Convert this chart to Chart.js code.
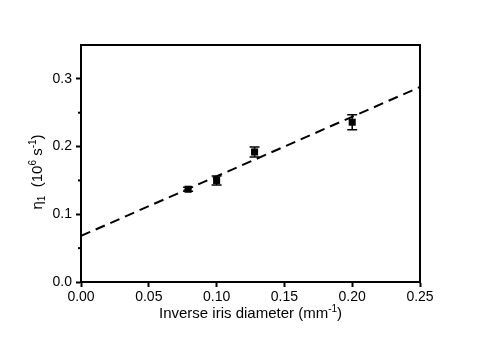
<!DOCTYPE html>
<html><head><meta charset="utf-8">
<script src="https://cdn.jsdelivr.net/npm/chart.js@4.4.0/dist/chart.umd.min.js"></script>
<style>html,body{margin:0;padding:0;background:#fff}canvas{display:block}</style>
</head><body>
<canvas id="c" width="485" height="337"></canvas>
<script>
// Data
const xVals = [0.079, 0.100, 0.128, 0.200];
const yVals = [0.137, 0.150, 0.192, 0.236];
const yErr = [0.003, 0.0067, 0.0074, 0.011];
const fitX = [0.0, 0.25];
const fitY = [0.068, 0.288];
const xTicks = [0.00, 0.05, 0.10, 0.15, 0.20, 0.25];
const yTicks = [0.0, 0.1, 0.2, 0.3];
const yMinorTicks = [0.05, 0.15, 0.25];

const FONT = "'Liberation Sans', Arial, sans-serif";

function drawRich(ctx, parts, x, y, align) {
  // parts: [text, mode] mode: 'n','sup','sub'
  const big = "15px " + FONT, small = "10px " + FONT;
  let total = 0;
  parts.forEach(p => { ctx.font = p[1] === 'n' ? big : small; total += ctx.measureText(p[0]).width; });
  let cx = align === 'center' ? x - total / 2 : x;
  ctx.textBaseline = 'alphabetic';
  ctx.textAlign = 'left';
  parts.forEach(p => {
    ctx.font = p[1] === 'n' ? big : small;
    let dy = p[1] === 'sup' ? -6 : (p[1] === 'sub' ? 3 : 0);
    ctx.fillText(p[0], cx, y + dy);
    cx += ctx.measureText(p[0]).width;
  });
}

const extras = {
  id: 'extras',
  afterDatasetsDraw(chart) {
    const ctx = chart.ctx, xs = chart.scales.x, ys = chart.scales.y, a = chart.chartArea;
    ctx.save();
    ctx.strokeStyle = '#000'; ctx.fillStyle = '#000';
    // error bars
    ctx.lineWidth = 1.5;
    xVals.forEach((xv, i) => {
      const px = xs.getPixelForValue(xv);
      const p1 = ys.getPixelForValue(yVals[i] - yErr[i]);
      const p2 = ys.getPixelForValue(yVals[i] + yErr[i]);
      ctx.beginPath();
      ctx.moveTo(px, p1); ctx.lineTo(px, p2);
      ctx.moveTo(px - 5, p1); ctx.lineTo(px + 5, p1);
      ctx.moveTo(px - 5, p2); ctx.lineTo(px + 5, p2);
      ctx.stroke();
    });
    // frame top/right
    ctx.lineWidth = 2;
    ctx.beginPath();
    ctx.moveTo(a.left, a.top); ctx.lineTo(a.right, a.top); ctx.lineTo(a.right, a.bottom);
    ctx.stroke();
    // minor ticks
    yMinorTicks.forEach(v => {
      const py = ys.getPixelForValue(v);
      ctx.beginPath(); ctx.moveTo(a.left - 3, py); ctx.lineTo(a.left, py); ctx.stroke();
    });
    // titles
    drawRich(ctx, [["Inverse iris diameter (mm", 'n'], ["-1", 'sup'], [")", 'n']], (a.left + a.right) / 2, 318, 'center');
    ctx.translate(42, 172);
    ctx.rotate(-Math.PI / 2);
    drawRich(ctx, [["\u03B7", 'n'], ["1", 'sub'], ["  (10", 'n'], ["6", 'sup'], [" s", 'n'], ["-1", 'sup'], [")", 'n']], 0, 0, 'center');
    ctx.restore();
  }
};

new Chart(document.getElementById('c'), {
  type: 'scatter',
  data: {
    datasets: [
      {
        label: 'fit',
        type: 'line',
        data: fitX.map((x, i) => ({ x, y: fitY[i] })),
        borderColor: '#000', borderWidth: 2, borderDash: [10, 6],
        pointRadius: 0, fill: false
      },
      {
        label: 'data',
        data: xVals.map((x, i) => ({ x, y: yVals[i] })),
        pointStyle: 'rect', pointRadius: 5,
        backgroundColor: '#000', borderColor: '#000', borderWidth: 0
      }
    ]
  },
  options: {
    responsive: false, animation: false,
    layout: { padding: { left: 0, top: 45, right: 65, bottom: 0 } },
    plugins: { legend: { display: false }, tooltip: { enabled: false } },
    scales: {
      x: {
        type: 'linear', min: 0, max: 0.25,
        afterBuildTicks: s => { s.ticks = xTicks.map(v => ({ value: v })); },
        afterFit: s => { s.height = 55; },
        grid: { drawOnChartArea: false, tickLength: 5, tickWidth: 2, tickColor: '#000' },
        border: { color: '#000', width: 2 },
        ticks: { color: '#000', font: { family: FONT, size: 14 }, padding: 2, maxRotation: 0,
          callback: v => Number(v).toFixed(2) }
      },
      y: {
        type: 'linear', min: 0, max: 0.35,
        afterBuildTicks: s => { s.ticks = yTicks.map(v => ({ value: v })); },
        afterFit: s => { s.width = 81; },
        grid: { drawOnChartArea: false, tickLength: 5, tickWidth: 2, tickColor: '#000' },
        border: { color: '#000', width: 2 },
        ticks: { color: '#000', font: { family: FONT, size: 14 }, padding: 4,
          callback: v => Number(v).toFixed(1) }
      }
    }
  },
  plugins: [extras]
});
</script>
</body></html>
